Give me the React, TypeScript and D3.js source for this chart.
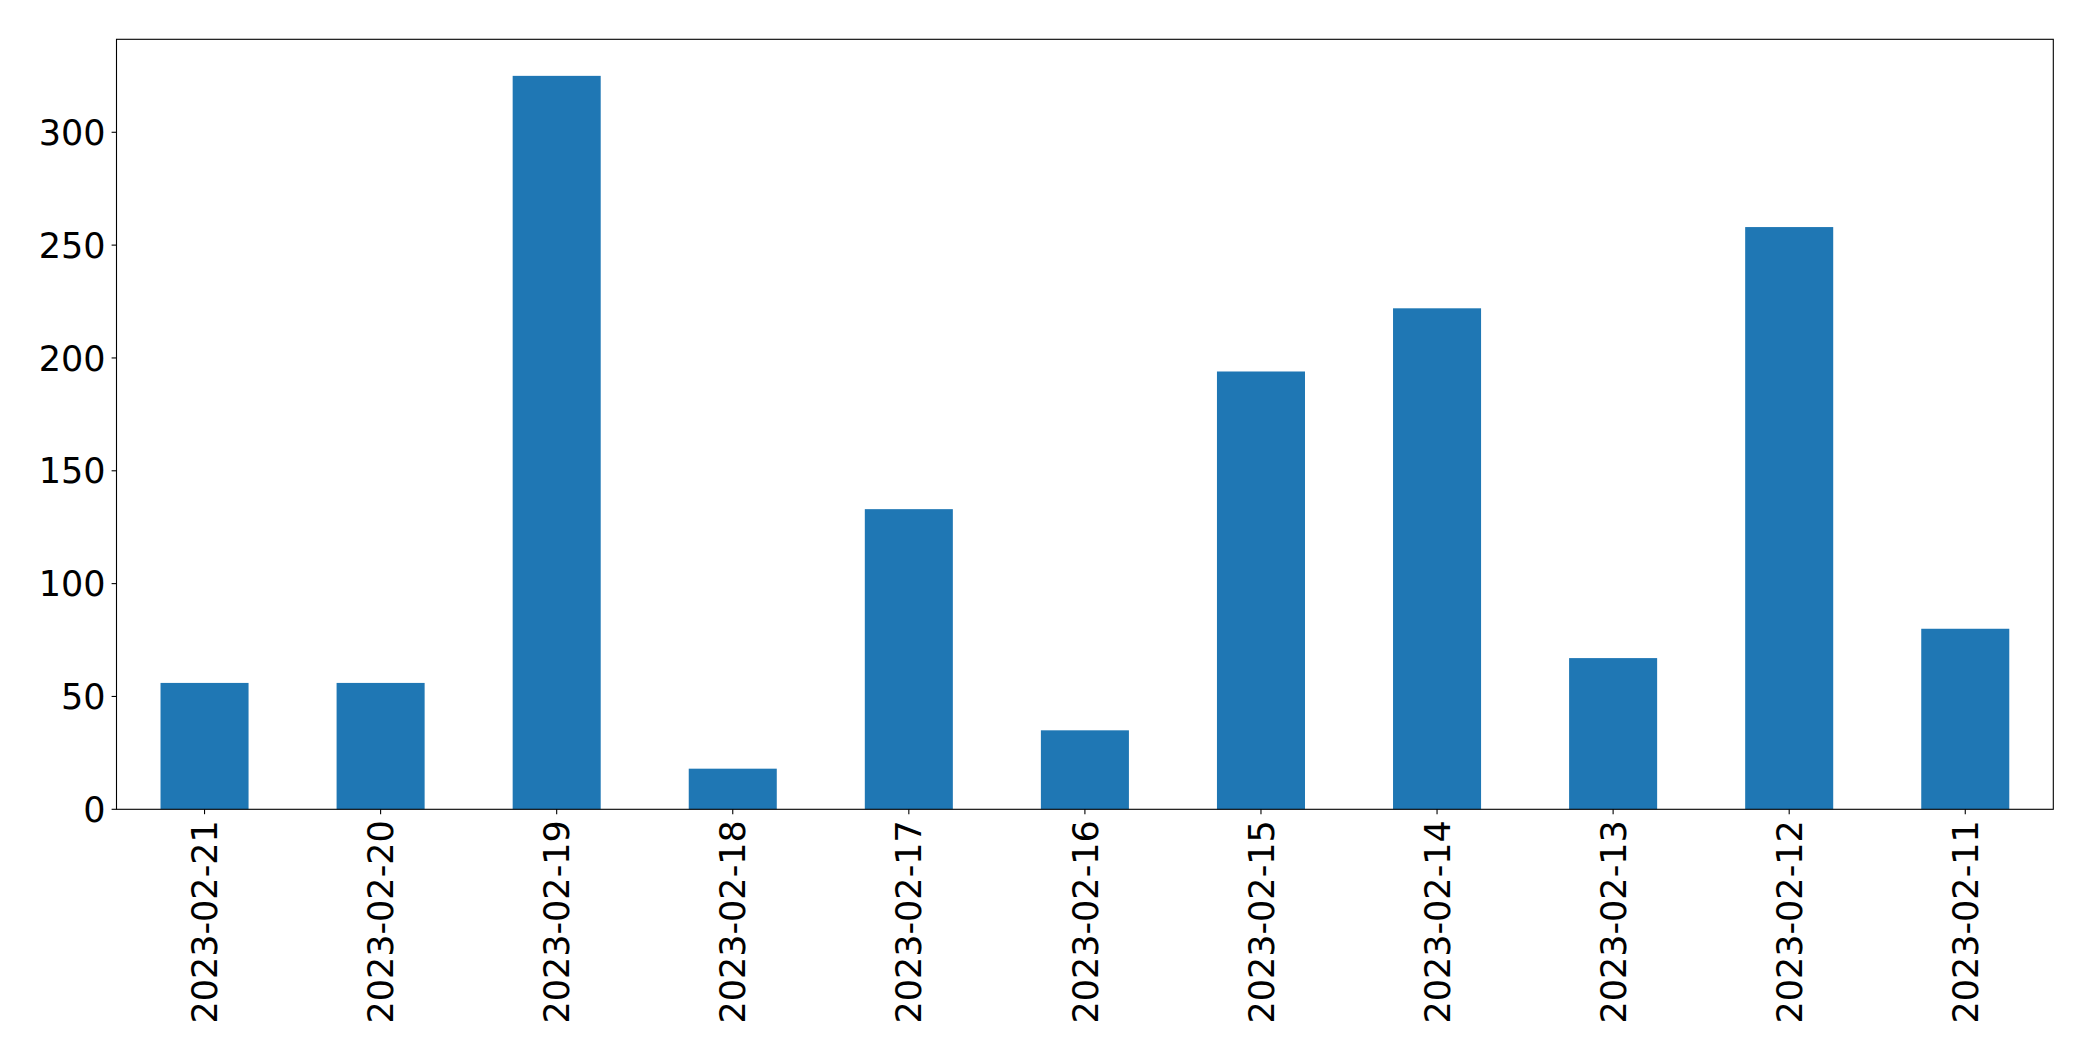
import React from "react";
import * as d3 from "d3";

const categories = [
  "2023-02-21", "2023-02-20", "2023-02-19", "2023-02-18", "2023-02-17", "2023-02-16",
  "2023-02-15", "2023-02-14", "2023-02-13", "2023-02-12", "2023-02-11",
];
const values = [56, 56, 325, 18, 133, 35, 194, 222, 67, 258, 80];
const yTicks = [0, 50, 100, 150, 200, 250, 300];

const W = 2093;
const H = 1061;
const left = 116.5;
const right = 2053.3;
const top = 39.3;
const bottom = 809.3;
const FONT = "'DejaVu Sans', sans-serif";
const FS = 35;

export default function App() {
  const x = d3.scaleBand<string>().domain(categories).range([left, right]).paddingInner(0).paddingOuter(0);
  const y = d3.scaleLinear().domain([0, 341.2]).range([bottom, top]);
  const step = x.step();
  const bw = step * 0.5;
  return (
    <svg width={W} height={H} style={{ position: "absolute", left: 0, top: 0, background: "#fff" }}>
      <rect x={0} y={0} width={W} height={H} fill="#fff" />
      {categories.map((c, i) => {
        const cx = (x(c) as number) + step / 2;
        return (
          <rect key={c} x={cx - bw / 2} y={y(values[i])} width={bw} height={y(0) - y(values[i])} fill="#1f77b4" />
        );
      })}
      <rect x={left} y={top} width={right - left} height={bottom - top} fill="none" stroke="#000" strokeWidth={1.1} />
      {yTicks.map((t) => (
        <g key={t}>
          <line x1={left - 4.9} x2={left} y1={y(t)} y2={y(t)} stroke="#000" strokeWidth={1.1} />
          <text x={left - 4.9 - 6} y={y(t)} dy="0.36em" textAnchor="end" fontFamily={FONT} fontSize={FS} fill="#000">
            {t}
          </text>
        </g>
      ))}
      {categories.map((c) => {
        const cx = (x(c) as number) + step / 2;
        return (
          <g key={c}>
            <line x1={cx} x2={cx} y1={bottom} y2={bottom + 4.9} stroke="#000" strokeWidth={1.1} />
            <text
              transform={`translate(${cx},${bottom + 4.9 + 6}) rotate(-90)`}
              textAnchor="end"
              dy="0.36em"
              fontFamily={FONT}
              fontSize={FS}
              fill="#000"
            >
              {c}
            </text>
          </g>
        );
      })}
    </svg>
  );
}
